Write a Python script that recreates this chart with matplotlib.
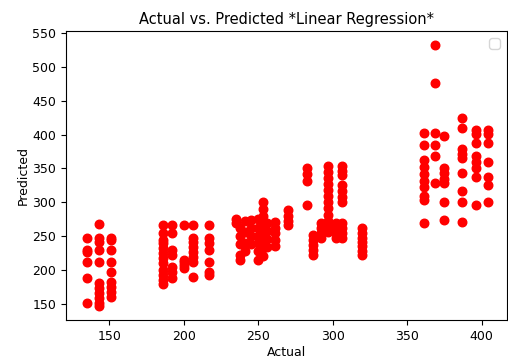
import matplotlib.pyplot as plt

# actual value -> predicted values
actual_levels = [135, 143, 151, 186, 192, 200, 206, 217,
                 235, 238, 241, 245, 250, 253, 256, 261, 270,
                 283, 287, 292, 297, 302, 306, 320,
                 361, 369, 375, 387, 396, 404]
predicted_groups = [
    [248, 229, 226, 212, 188, 151],
    [268, 248, 241, 229, 212, 181, 174, 166, 159, 151, 147],
    [248, 244, 230, 212, 197, 182, 175, 168, 160],
    [266, 255, 245, 240, 232, 225, 218, 210, 200, 192, 185, 180],
    [266, 254, 229, 222, 204, 197, 188],
    [266, 215, 212, 207, 203],
    [266, 248, 241, 234, 226, 219, 212, 190],
    [266, 247, 240, 229, 212, 197, 193],
    [276, 269],
    [262, 250, 238, 222, 215],
    [272, 256, 240, 228],
    [274, 262, 250, 238],
    [276, 262, 250, 240, 228, 215],
    [300, 290, 280, 270, 258, 245, 232, 220],
    [270, 258, 246, 234],
    [271, 262, 254, 245, 236],
    [288, 280, 272, 266],
    [350, 342, 332, 296],
    [251, 244, 237, 230, 222],
    [270, 262, 255, 247],
    [354, 345, 336, 327, 318, 309, 300, 291, 282, 273, 265, 256],
    [270, 262, 255, 247],
    [354, 347, 340, 325, 317, 308, 300, 270, 262, 255, 247],
    [262, 255, 248, 241, 235, 228, 222],
    [403, 384, 362, 352, 342, 332, 322, 310, 303, 269],
    [532, 476, 403, 384, 369, 328],
    [398, 351, 343, 335, 328, 300, 274],
    [425, 410, 379, 372, 365, 343, 316, 300, 271],
    [407, 401, 387, 369, 360, 351, 338, 296],
    [407, 401, 387, 359, 337, 325, 300],
]

actual = []
predicted = []
for a, group in zip(actual_levels, predicted_groups):
    for p in group:
        actual.append(a)
        predicted.append(p)

fig = plt.figure(figsize=(5.08, 3.58), dpi=100)
ax = fig.add_axes([0.13, 0.106, 0.868, 0.807])
ax.scatter(actual, predicted, color='red', s=38)
ax.set_xlim(121, 417)
ax.set_ylim(126, 553)
ax.set_xticks([150, 200, 250, 300, 350, 400])
ax.set_yticks([150, 200, 250, 300, 350, 400, 450, 500, 550])
ax.tick_params(labelsize=9)
ax.set_xlabel('Actual', fontsize=9, labelpad=2)
ax.set_ylabel('Predicted', fontsize=9, labelpad=2)
ax.set_title('Actual vs. Predicted *Linear Regression*', fontsize=10.5, pad=5)
ax.legend(handles=[], loc='upper right')
fig.savefig('out.png', dpi=100)
